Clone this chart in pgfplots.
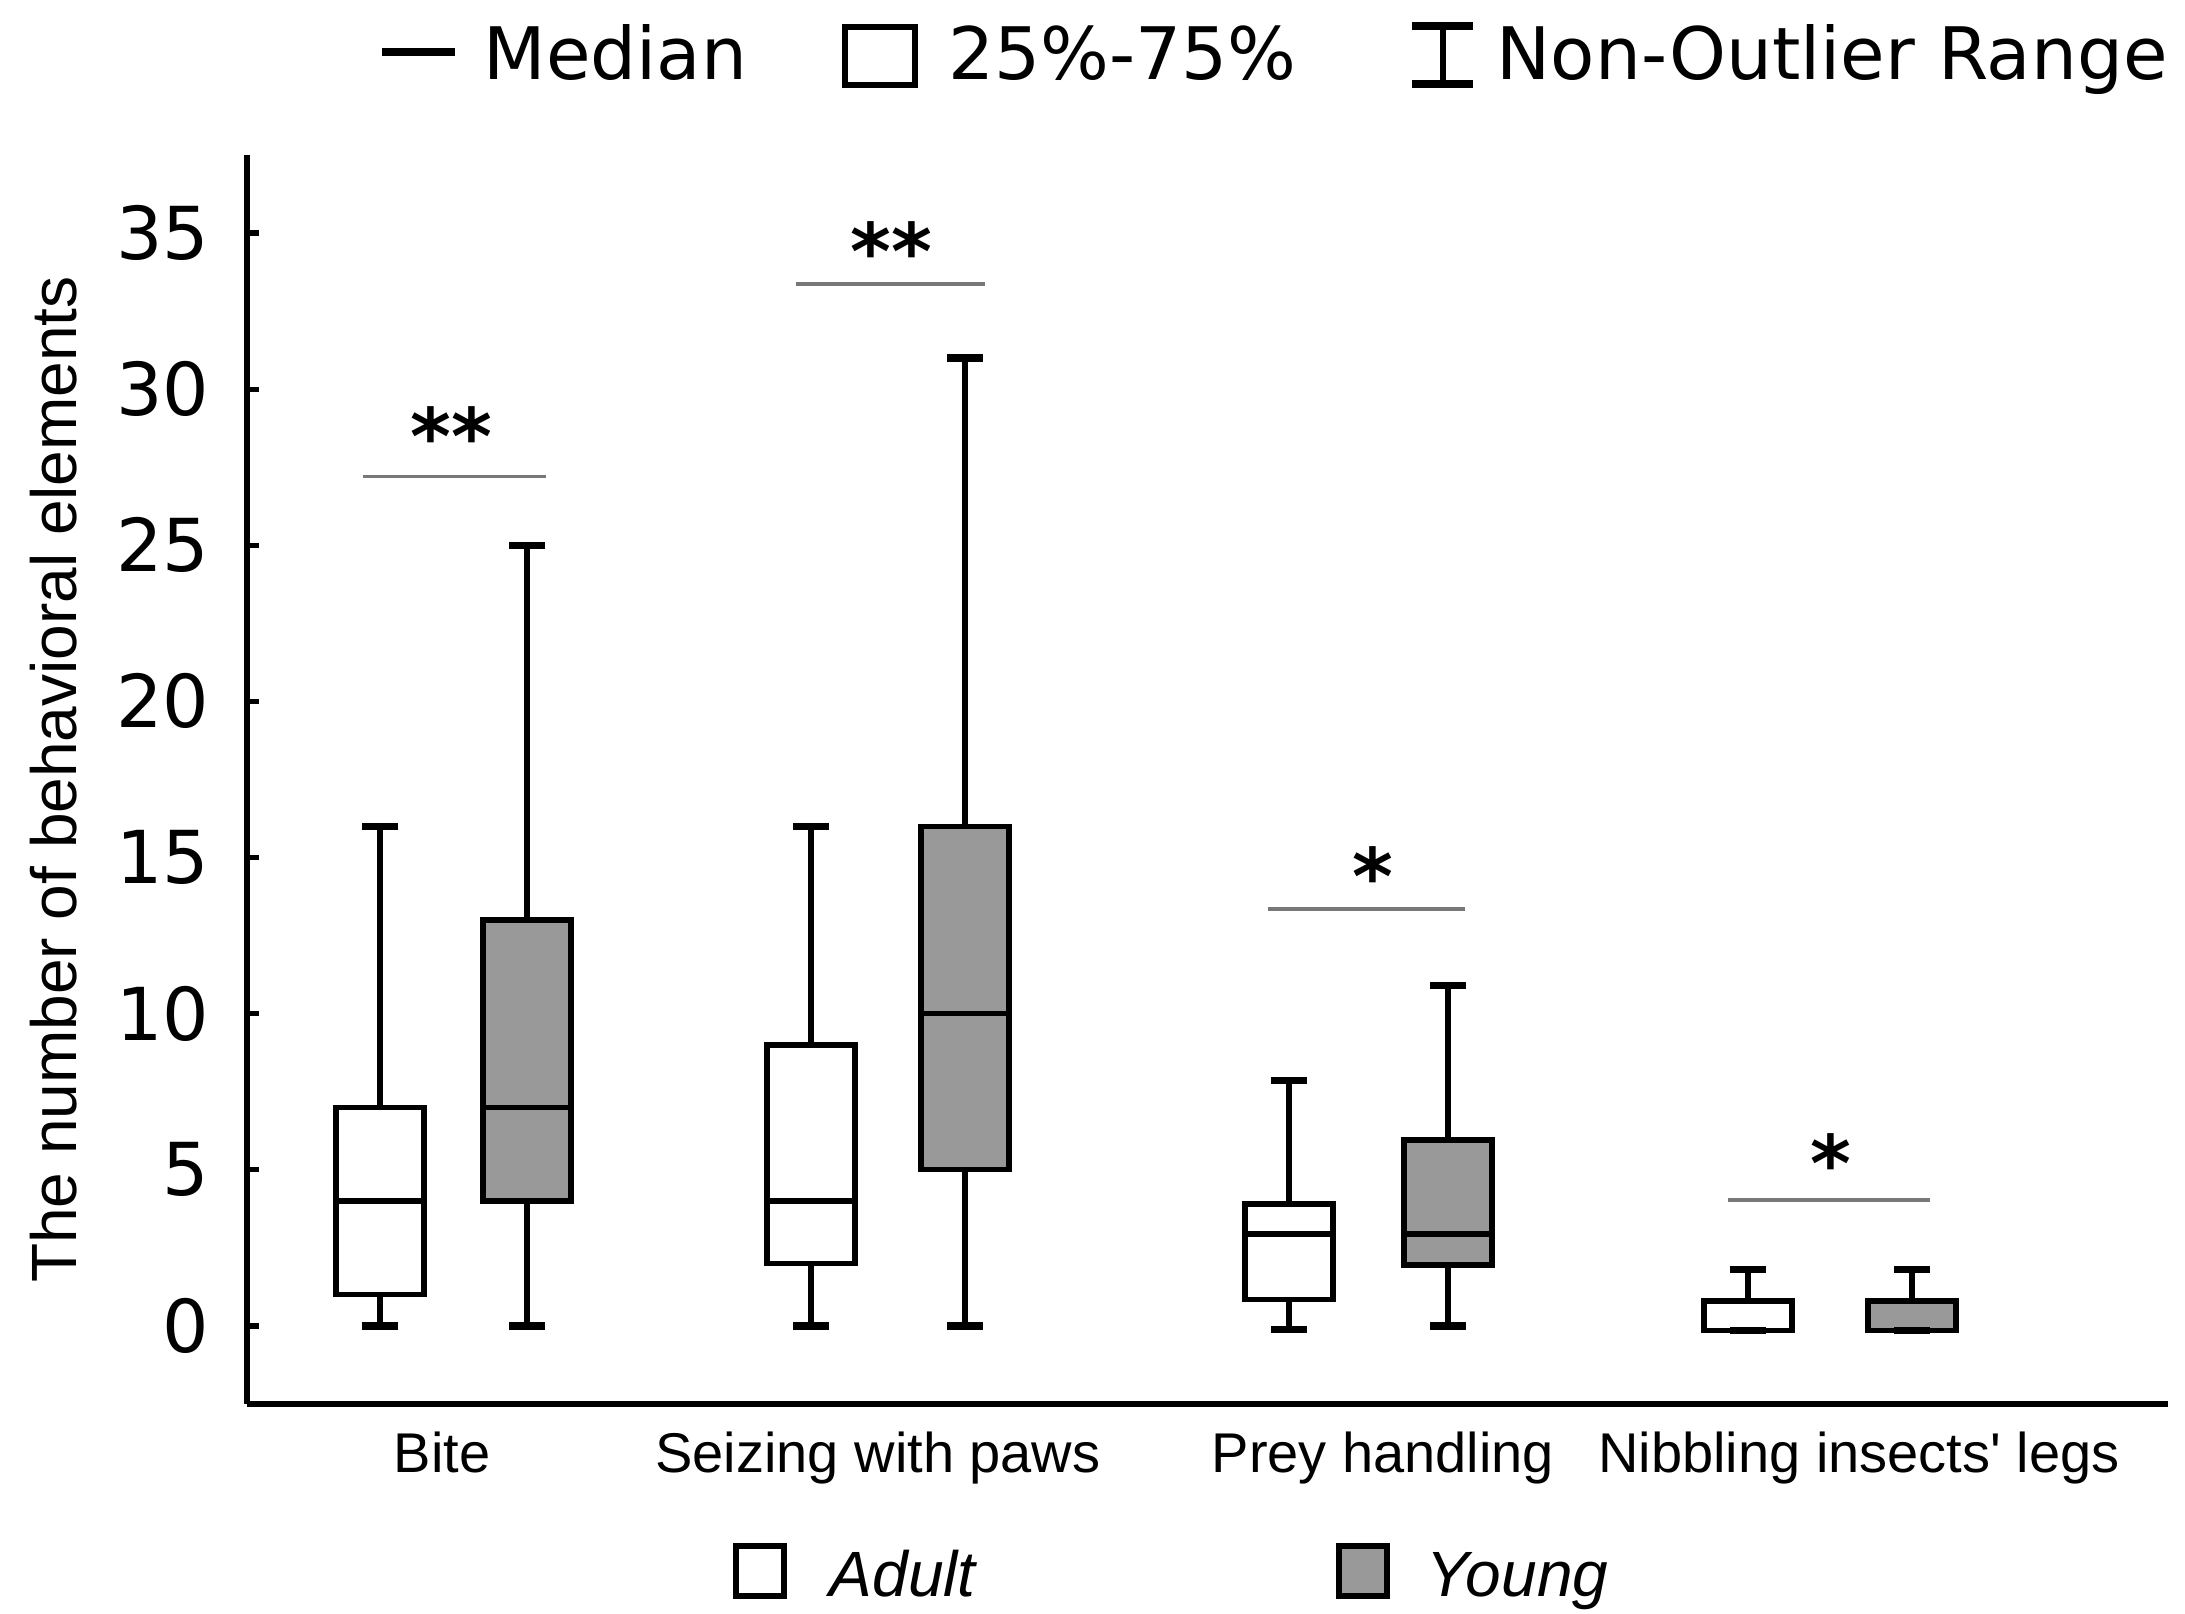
\documentclass[border=0pt]{standalone}
\usepackage{fontspec}
\setmainfont{Liberation Sans}[Ligatures=TeXOff]
\newfontfamily\dejavu{DejaVu Sans}
\usepackage{pgfplots}
\pgfplotsset{compat=1.18}
\definecolor{boxgray}{RGB}{153,153,153}
\definecolor{siggray}{RGB}{120,120,120}

% #1 centre, #2 left edge, #3 right edge, #4 lower whisker, #5 lower quartile,
% #6 median, #7 upper quartile, #8 upper whisker, #9 fill colour
\newcommand{\bx}[9]{%
  \addplot[black, line width=1.35pt, mark=none] coordinates {(#1,#4) (#1,#5)};
  \addplot[black, line width=1.35pt, mark=none] coordinates {(#1,#7) (#1,#8)};
  \addplot[draw=black, fill=#9, line width=1.35pt, mark=none, line join=miter] coordinates {(#2,#5) (#3,#5) (#3,#7) (#2,#7)} -- cycle;
  \addplot[black, line width=1.35pt, mark=none] coordinates {(#2,#6) (#3,#6)};
  \addplot[black, only marks, mark=-, mark size=4.5pt, mark options={line width=1.8pt}] coordinates {(#1,#4) (#1,#8)};
}

\begin{document}
\begin{tikzpicture}
\begin{axis}[
  at={(61.75pt,52.5pt)}, anchor=south west,
  scale only axis, width=480.25pt, height=312.25pt,
  xmin=247, xmax=2168, ymin=-2.5, ymax=37.5,
  axis x line*=bottom, axis y line*=left,
  axis line style={-, line width=1.4pt, black},
  ytick={0,5,...,35}, tick align=inside, major tick length=3pt,
  ytick style={line width=1.3pt, black},
  yticklabel style={font=\dejavu\fontsize{18.25}{20}\selectfont, inner sep=0pt, xshift=-9.25pt, anchor=east},
  /pgf/number format/assume math mode=true,
  xtick={442,878,1383,1859},
  xticklabels={Bite, Seizing with paws, Prey handling, Nibbling insects' legs},
  xtick style={draw=none},
  xticklabel style={font=\fontsize{14}{16}\selectfont, anchor=base, yshift=-17.25pt, inner sep=0pt},
  ylabel={The number of behavioral elements},
  every axis y label/.style={at={(rel axis cs:-0.0885,0.5)}, rotate=90, anchor=base, font=\fontsize{16}{18}\selectfont, inner sep=0pt},
  clip=false,
]
% Bite: Adult, Young
\bx{380}{336}{424}{0}{1}{4}{7}{16}{white}
\bx{527}{483}{571}{0}{4}{7}{13}{25}{boxgray}
% Seizing with paws
\bx{811}{767}{855}{0}{2}{4}{9}{16}{white}
\bx{965}{921}{1009}{0}{5}{10}{16}{31}{boxgray}
% Prey handling
\bx{1289}{1245}{1333}{-0.12}{0.85}{2.95}{3.9}{7.85}{white}
\bx{1448}{1404}{1492}{0}{1.95}{2.95}{5.95}{10.9}{boxgray}
% Nibbling insects' legs
\bx{1748}{1704}{1792}{-0.15}{-0.15}{-0.15}{0.8}{1.8}{white}
\bx{1912}{1868}{1956}{-0.15}{-0.15}{-0.15}{0.8}{1.8}{boxgray}

% significance
\draw[siggray, line width=0.9pt] (axis cs:363,27.2) -- (axis cs:546,27.2);
\draw[siggray, line width=0.9pt] (axis cs:795.5,33.37) -- (axis cs:984.6,33.37);
\draw[siggray, line width=0.9pt] (axis cs:1267.5,13.36) -- (axis cs:1465,13.36);
\draw[siggray, line width=0.9pt] (axis cs:1728,4.03) -- (axis cs:1930,4.03);
\node[font=\dejavu\bfseries\fontsize{19.5}{22}\selectfont, anchor=base, inner sep=0pt] at (axis cs:451,27.6) {**};
\node[font=\dejavu\bfseries\fontsize{19.5}{22}\selectfont, anchor=base, inner sep=0pt] at (axis cs:891.5,33.5) {**};
\node[font=\dejavu\bfseries\fontsize{19.5}{22}\selectfont, anchor=base, inner sep=0pt] at (axis cs:1373,13.5) {*};
\node[font=\dejavu\bfseries\fontsize{19.5}{22}\selectfont, anchor=base, inner sep=0pt] at (axis cs:1831,4.3) {*};
\end{axis}

% top legend
\draw[line width=1.8pt] (95.5pt,390.5pt) -- (113.75pt,390.5pt);
\node[anchor=base west, inner sep=0pt, font=\dejavu\fontsize{18.1}{20}\selectfont] at (120.75pt,383.5pt) {Median};
\draw[line width=1.5pt] (211.25pt,382.25pt) rectangle (228.75pt,396.75pt);
\node[anchor=base west, inner sep=0pt, font=\dejavu\fontsize{18.1}{20}\selectfont] at (237pt,383.5pt) {25\%-75\%};
\draw[line width=1.4pt] (360.75pt,382.5pt) -- (360.75pt,397pt);
\draw[line width=1.8pt] (353pt,382.5pt) -- (368.25pt,382.5pt);
\draw[line width=1.8pt] (353pt,397pt) -- (368.25pt,397pt);
\node[anchor=base west, inner sep=0pt, font=\dejavu\fontsize{18.1}{20}\selectfont] at (374pt,383.5pt) {Non-Outlier Range};

% bottom legend
\draw[line width=1.5pt, fill=white] (184pt,4.6pt) rectangle (196pt,17pt);
\node[anchor=base west, inner sep=0pt, font=\itshape\fontsize{16}{18}\selectfont] at (207.25pt,4.25pt) {Adult};
\draw[line width=1.5pt, fill=boxgray] (334.75pt,4.6pt) rectangle (346.75pt,17pt);
\node[anchor=base west, inner sep=0pt, font=\itshape\fontsize{16}{18}\selectfont] at (356.5pt,4.25pt) {Young};

\pgfresetboundingbox
\path[use as bounding box] (0,0) rectangle (546.25pt,403.5pt);
\end{tikzpicture}
\end{document}
